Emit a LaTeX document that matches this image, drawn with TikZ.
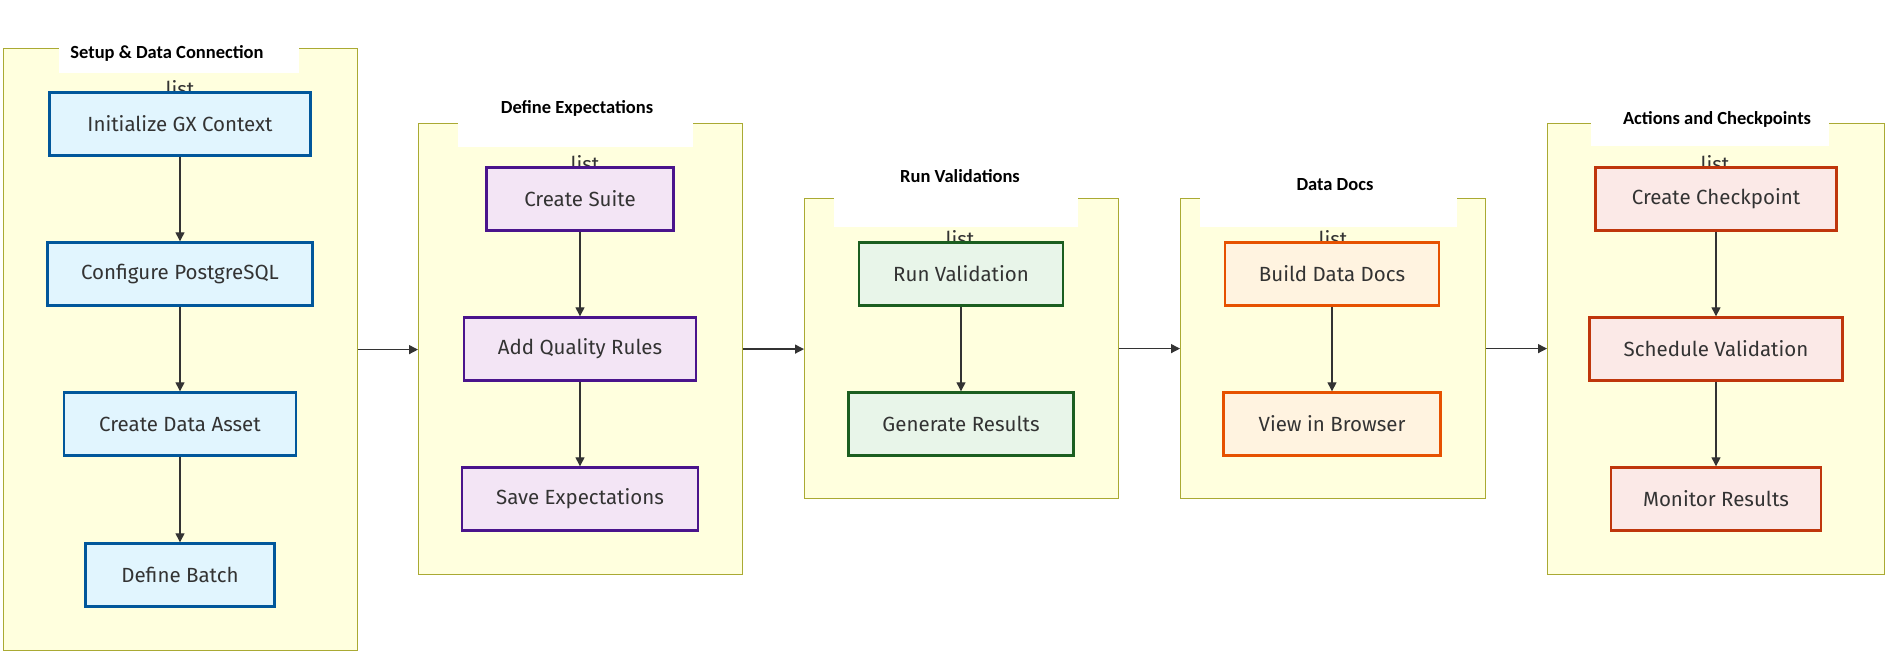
\documentclass[tikz,border=0pt]{standalone}
\usepackage{fontspec}
\setmainfont{Fira Sans}
\newfontfamily\titlefont{Carlito}
\usetikzlibrary{arrows.meta}
\definecolor{clfill}{HTML}{FFFFDE}
\definecolor{cldraw}{HTML}{AAAA33}
\definecolor{bluef}{HTML}{E1F5FE}\definecolor{blued}{HTML}{01579B}
\definecolor{purpf}{HTML}{F3E5F5}\definecolor{purpd}{HTML}{4A148C}
\definecolor{greenf}{HTML}{E8F5E9}\definecolor{greend}{HTML}{1B5E20}
\definecolor{orangef}{HTML}{FFF3E0}\definecolor{oranged}{HTML}{E65100}
\definecolor{redf}{HTML}{FBE9E7}\definecolor{redd}{HTML}{BF360C}
\definecolor{txt}{HTML}{333333}
\begin{document}
\begin{tikzpicture}[x=1pt,y=-1pt,
  cluster/.style={draw=cldraw,fill=clfill,line width=1.2pt,anchor=north west,inner sep=0},
  titlebg/.style={fill=white,draw=none},
  ctitle/.style={font=\titlefont\bfseries\fontsize{18.5}{22}\selectfont,text=black,inner sep=0},
  listtxt/.style={font=\fontsize{20.5}{24}\selectfont,text=txt,inner sep=0,anchor=north},
  box/.style={rectangle,line width=2.4pt,font=\fontsize{20.5}{24}\selectfont,text=txt,inner sep=0},
  bluebox/.style={box,fill=bluef,draw=blued},
  purpbox/.style={box,fill=purpf,draw=purpd},
  greenbox/.style={box,fill=greenf,draw=greend},
  orangebox/.style={box,fill=orangef,draw=oranged},
  redbox/.style={box,fill=redf,draw=redd},
  arr/.style={draw=txt,line width=1.3pt,-{Triangle[length=9pt,width=9pt]}}
]
\useasboundingbox (0,0) rectangle (1891,665);
% clusters
\node[cluster,minimum width=354,minimum height=602] (c1) at (3,48) {};
\node[cluster,minimum width=324,minimum height=451] (c2) at (418,123) {};
\node[cluster,minimum width=314,minimum height=300] (c3) at (804,198) {};
\node[cluster,minimum width=305,minimum height=300] (c4) at (1180,198) {};
\node[cluster,minimum width=337,minimum height=451] (c5) at (1547,123) {};
% title backgrounds
\fill[titlebg] (59,46) rectangle (299,73);
\fill[titlebg] (458,121) rectangle (693,147);
\fill[titlebg] (834,196) rectangle (1078,227);
\fill[titlebg] (1200,196) rectangle (1457,227);
\fill[titlebg] (1591,121) rectangle (1829,146);
% titles
\node[ctitle] (t1) at (167,53) {Setup \& Data Connection};
\node[ctitle] (t2) at (577,108) {Define Expectations};
\node[ctitle] (t3) at (960,176) {Run Validations};
\node[ctitle] (t4) at (1335,185) {Data Docs};
\node[ctitle] (t5) at (1717,119) {Actions and Checkpoints};
% list labels
\node[listtxt] (l1) at (180,80) {list};
\node[listtxt] (l2) at (585,155) {list};
\node[listtxt] (l3) at (960,230) {list};
\node[listtxt] (l4) at (1333,230) {list};
\node[listtxt] (l5) at (1715,155) {list};
% nodes
\node[bluebox,minimum width=261,minimum height=63] (a1) at (180,124) {Initialize GX Context};
\node[bluebox,minimum width=265,minimum height=63] (a2) at (180,274) {Configure PostgreSQL};
\node[bluebox,minimum width=232,minimum height=63] (a3) at (180,424) {Create Data Asset};
\node[bluebox,minimum width=189,minimum height=63] (a4) at (180,575) {Define Batch};
\node[purpbox,minimum width=187,minimum height=63] (b1) at (580,199) {Create Suite};
\node[purpbox,minimum width=232,minimum height=63] (b2) at (580,349) {Add Quality Rules};
\node[purpbox,minimum width=236,minimum height=63] (b3) at (580,499) {Save Expectations};
\node[greenbox,minimum width=204,minimum height=63] (g1) at (961,274) {Run Validation};
\node[greenbox,minimum width=225,minimum height=63] (g2) at (961,424) {Generate Results};
\node[orangebox,minimum width=214,minimum height=63] (o1) at (1332,274) {Build Data Docs};
\node[orangebox,minimum width=217,minimum height=63] (o2) at (1332,424) {View in Browser};
\node[redbox,minimum width=241,minimum height=63] (r1) at (1716,199) {Create Checkpoint};
\node[redbox,minimum width=253,minimum height=63] (r2) at (1716,349) {Schedule Validation};
\node[redbox,minimum width=210,minimum height=63] (r3) at (1716,499) {Monitor Results};
% edges
\draw[arr] (a1) -- (a2);
\draw[arr] (a2) -- (a3);
\draw[arr] (a3) -- (a4);
\draw[arr] (b1) -- (b2);
\draw[arr] (b2) -- (b3);
\draw[arr] (g1) -- (g2);
\draw[arr] (o1) -- (o2);
\draw[arr] (r1) -- (r2);
\draw[arr] (r2) -- (r3);
\draw[arr] (c1.east) -- (c1.east -| c2.west);
\draw[arr] (c2.east) -- (c2.east -| c3.west);
\draw[arr] (c3.east) -- (c3.east -| c4.west);
\draw[arr] (c4.east) -- (c4.east -| c5.west);
\end{tikzpicture}
\end{document}
